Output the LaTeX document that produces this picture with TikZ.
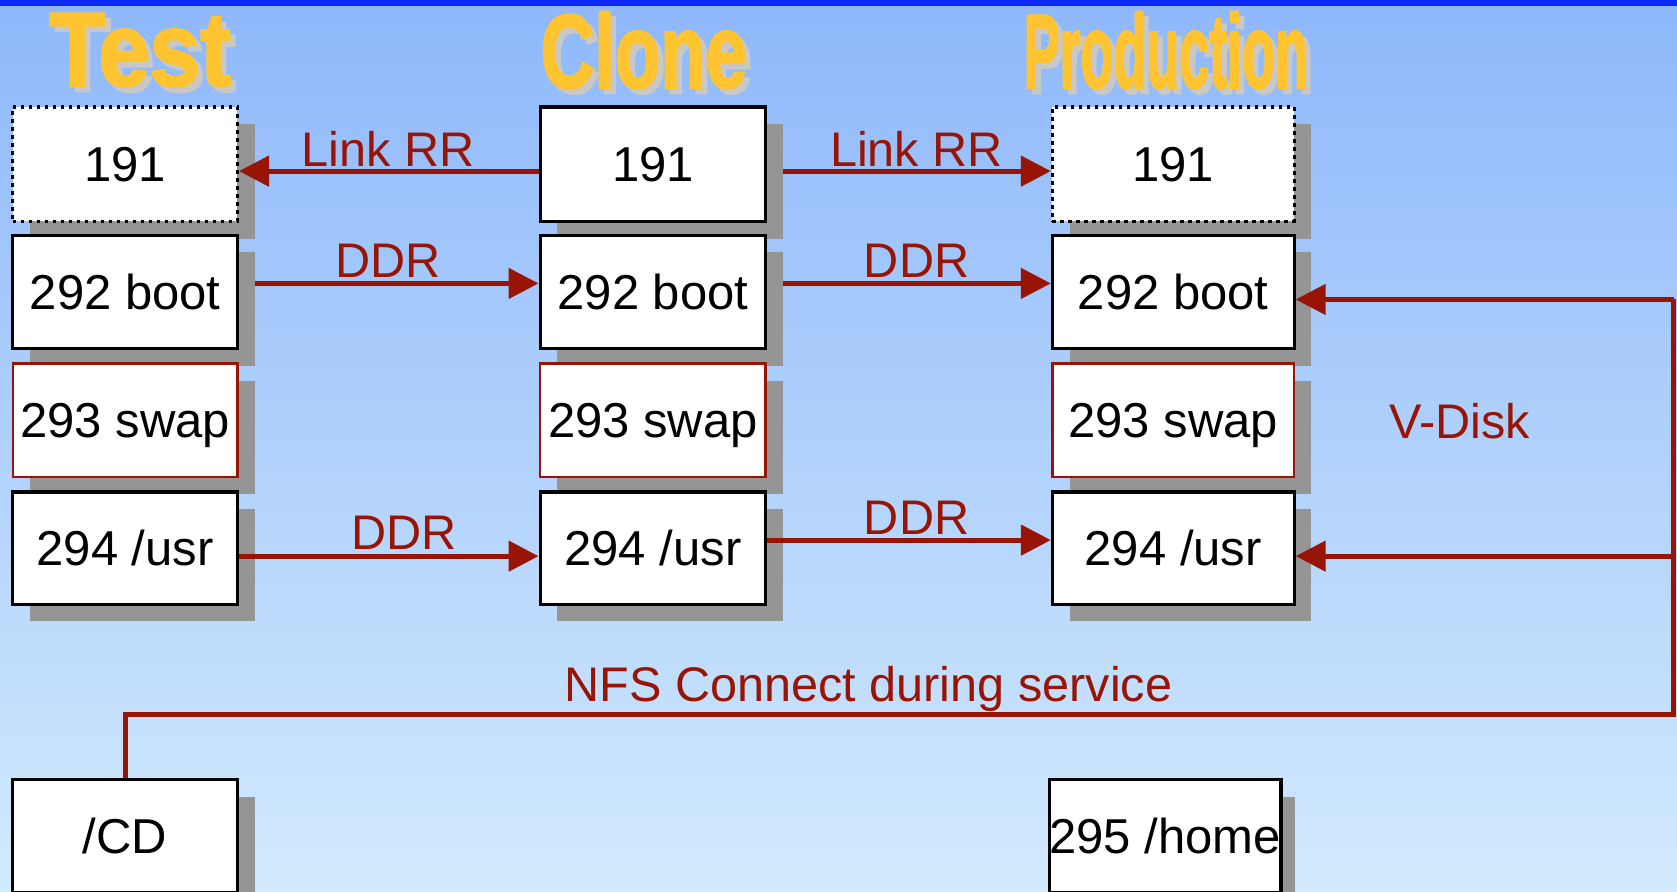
\documentclass[tikz,border=0pt]{standalone}
\usepackage{fontspec}
\setmainfont{Liberation Sans}
\newfontfamily\titlefont{Liberation Sans Bold}[FakeBold=2.5]
\usetikzlibrary{arrows.meta}
\definecolor{bgtop}{RGB}{142,184,251}
\definecolor{bgbot}{RGB}{210,234,253}
\definecolor{topbar}{RGB}{12,40,245}
\definecolor{dred}{RGB}{152,20,5}
\definecolor{shad}{RGB}{149,149,149}
\definecolor{tshad}{RGB}{200,200,200}
\definecolor{tgold}{RGB}{255,196,48}
\newdimen\pxu \pxu=0.53475pt
\newcommand\mkdisk[7]{%
  \node[shadowbox, minimum width=#4*\pxu, minimum height=#5*\pxu] (#1s) at (#2+16,#3+16) {};
  \node[disk, minimum width=#4*\pxu, minimum height=#5*\pxu, #6] (#1) at (#2,#3) {#7};}
\newcommand\mktitle[5]{%
  \node[ttl, text=tshad, xscale=#4] (#1s) at (#2+5,#3+5) {#5};
  \node[ttl, text=tgold, xscale=#4] (#1) at (#2,#3) {#5};}
\begin{document}
\begin{tikzpicture}[x=0.53475pt,y=-0.53475pt,
  disk/.style={draw=black, line width=1.6pt, fill=white, inner sep=0pt, text height=17.5pt, text depth=0pt, font=\fontsize{24.5pt}{29pt}\selectfont},
  dotdisk/.style={dash pattern=on 1.8pt off 2.2pt},
  swapdisk/.style={draw=dred, line width=1.3pt},
  shadowbox/.style={fill=shad, draw=none, inner sep=0pt},
  conn/.style={draw=dred, line width=2.5pt},
  arr/.style={-{Triangle[length=15pt,width=15pt]}},
  lbl/.style={text=dred, inner sep=0pt, font=\fontsize{24.3pt}{29pt}\selectfont},
  ttl/.style={inner sep=0pt, font=\titlefont\fontsize{52.3pt}{60pt}\selectfont},
]
\useasboundingbox (0,0) rectangle (1568,834);
\fill[top color=bgtop, bottom color=bgbot] (0,0) rectangle (1568,834);
\fill[topbar] (0,0) rectangle (1568,5.5);

% titles
\mktitle{ttest}{131}{47}{0.875}{Test}
\mktitle{tclone}{602}{47}{0.71}{Clone}
\mktitle{tprod}{1090}{47}{0.515}{Production}

% Test column
\mkdisk{t1}{117}{153.5}{210}{107}{dotdisk}{191}
\mkdisk{t2}{117}{273}{210}{106}{}{292 boot}
\mkdisk{t3}{117}{393}{210}{106}{swapdisk}{293 swap}
\mkdisk{t4}{117}{512.5}{210}{105}{}{294 /usr}
\mkdisk{cd}{117}{782}{210}{106}{}{/CD}
% Clone column
\mkdisk{c1}{610.5}{153.5}{211}{107}{}{191}
\mkdisk{c2}{610.5}{273}{211}{106}{}{292 boot}
\mkdisk{c3}{610.5}{393}{211}{106}{swapdisk}{293 swap}
\mkdisk{c4}{610.5}{512.5}{211}{105}{}{294 /usr}
% Production column
\mkdisk{p1}{1097}{153.5}{226}{107}{dotdisk}{191}
\mkdisk{p2}{1097}{273}{226}{106}{}{292 boot}
\mkdisk{p3}{1097}{393}{226}{106}{swapdisk}{293 swap}
\mkdisk{p4}{1097}{512.5}{226}{105}{}{294 /usr}
\mkdisk{home}{1089.5}{782}{211}{106}{}{295 /home}

% connector levels
\coordinate (r1) at (0,160);
\coordinate (r2) at (0,265);
\coordinate (r4a) at (0,520);
\coordinate (r4b) at (0,505);
\coordinate (vt) at (1565,280);
\coordinate (vm) at (1565,520);
\coordinate (vb) at (1565,668);

\draw[conn,arr] (c1.west |- r1) -- (t1.east |- r1);
\draw[conn,arr] (c1s.east |- r1) -- (p1.west |- r1);
\draw[conn,arr] (t2s.east |- r2) -- (c2.west |- r2);
\draw[conn,arr] (c2s.east |- r2) -- (p2.west |- r2);
\draw[conn,arr] (t4.east |- r4a) -- (c4.west |- r4a);
\draw[conn,arr] (c4.east |- r4b) -- (p4.west |- r4b);
\draw[conn,arr] (vt) -- (p2.east |- vt);
\draw[conn,arr] (vm) -- (p4.east |- vm);
\draw[conn] (vt) -- (vb) -| (cd.north);

% labels
\node[lbl] (l1) at (363,139) {Link RR};
\node[lbl] (l2) at (857,139) {Link RR};
\node[lbl] (l3) at (363,244) {DDR};
\node[lbl] (l4) at (857,244) {DDR};
\node[lbl] (l5) at (378,498) {DDR};
\node[lbl] (l6) at (857,484) {DDR};
\node[lbl] (l7) at (1365,394) {V-Disk};
\node[lbl, anchor=base] (l8) at (812,656) {NFS Connect during service};
\end{tikzpicture}
\end{document}
